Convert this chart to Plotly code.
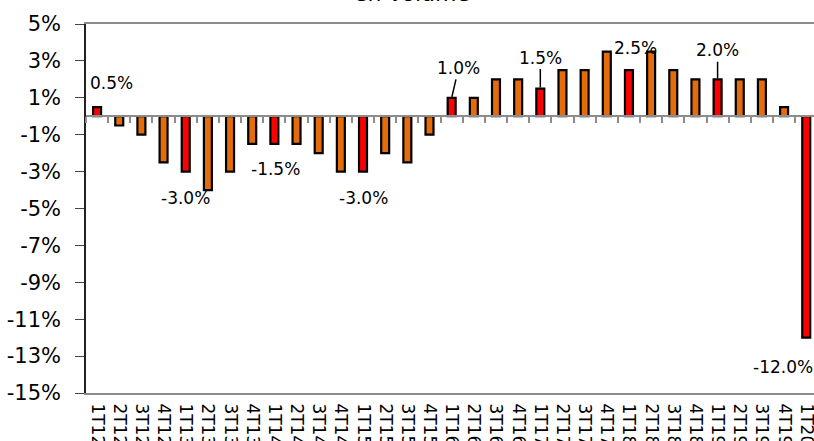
import plotly.graph_objects as go

# ---- data ----
quarters = ["1T12", "2T12", "3T12", "4T12",
            "1T13", "2T13", "3T13", "4T13",
            "1T14", "2T14", "3T14", "4T14",
            "1T15", "2T15", "3T15", "4T15",
            "1T16", "2T16", "3T16", "4T16",
            "1T17", "2T17", "3T17", "4T17",
            "1T18", "2T18", "3T18", "4T18",
            "1T19", "2T19", "3T19", "4T19",
            "1T20"]
values = [0.5, -0.5, -1.0, -2.5,
          -3.0, -4.0, -3.0, -1.5,
          -1.5, -1.5, -2.0, -3.0,
          -3.0, -2.0, -2.5, -1.0,
          1.0, 1.0, 2.0, 2.0,
          1.5, 2.5, 2.5, 3.5,
          2.5, 3.5, 2.5, 2.0,
          2.0, 2.0, 2.0, 0.5,
          -12.0]
labelled = ["1T12", "1T13", "1T14", "1T15", "1T16", "1T17", "1T18", "1T19", "1T20"]
y_ticks = [5, 3, 1, -1, -3, -5, -7, -9, -11, -13, -15]
y_tick_text = ["5%", "3%", "1%", "-1%", "-3%", "-5%", "-7%", "-9%", "-11%", "-13%", "-15%"]
title_text = "en volume"

RED = "#FF0000"
ORANGE = "#E46C0A"
FONT = "DejaVu Sans"

colors = [RED if q.startswith("1T") else ORANGE for q in quarters]

fig = go.Figure()
fig.add_trace(go.Bar(
    x=quarters, y=values, marker=dict(color=colors, line=dict(color="black", width=2.2)),
    width=0.36, hoverinfo="x+y", showlegend=False,
))
# invisible trace for the zero-line axis
fig.add_trace(go.Scatter(x=quarters, y=[0] * len(quarters), xaxis="x2", mode="markers",
                         marker=dict(opacity=0), hoverinfo="skip", showlegend=False))

# label offsets (text-only labels)
label_style = {
    "1T12": (14, 24),
    "1T13": (0, -26),
    "1T14": (1, -25),
    "1T15": (0, -26),
    "1T18": (7, 22),
    "1T20": (-23, -29),
}
# labels with a leader line
arrow_style = {
    "1T16": (7, -30),
    "1T17": (0, -31),
    "1T19": (0, -29),
}
annotations = []
for q in labelled:
    v = values[quarters.index(q)]
    txt = f"{v:.1f}%"
    if q in arrow_style:
        ax, ay = arrow_style[q]
        annotations.append(dict(x=q, y=v, xref="x", yref="y", text=txt, showarrow=True,
                                arrowhead=0, arrowwidth=1.5, arrowcolor="black", ax=ax, ay=ay,
                                font=dict(family=FONT, size=17, color="black"), standoff=1))
    else:
        xs, ys = label_style[q]
        annotations.append(dict(x=q, y=v, xref="x", yref="y", text=txt, showarrow=False,
                                xshift=xs, yshift=ys,
                                font=dict(family=FONT, size=17, color="black")))
annotations.append(dict(x=0.448, y=1, xref="paper", yref="paper", text=title_text,
                        showarrow=False, yanchor="bottom", yshift=16,
                        font=dict(family=FONT, size=22, color="black")))

xrange = [-0.5, 32.35]
fig.update_layout(
    width=814, height=441,
    margin=dict(l=86, r=0, t=24, b=48, autoexpand=False),
    paper_bgcolor="white", plot_bgcolor="white",
    font=dict(family=FONT, color="black"),
    annotations=annotations,
    xaxis=dict(type="category", categoryorder="array", categoryarray=quarters,
               range=xrange, tickangle=90, showgrid=False, zeroline=False,
               showline=True, linecolor="#8c8c8c", linewidth=2, mirror=True,
               ticks="", automargin=False, ticklabelstandoff=5,
               tickfont=dict(family=FONT, size=17, color="black")),
    xaxis2=dict(type="category", categoryorder="array", categoryarray=quarters,
                range=xrange, overlaying="x", anchor="free", position=(0 - (-15)) / 20,
                side="bottom", showticklabels=False, showgrid=False, zeroline=False,
                showline=True, linecolor="#8c8c8c", linewidth=2, automargin=False,
                ticks="outside", tickson="boundaries", ticklen=6, tickcolor="#8c8c8c",
                tickwidth=1.5),
    yaxis=dict(range=[-15, 5], tickvals=y_ticks, ticktext=y_tick_text,
               showgrid=False, zeroline=False, showline=True, linecolor="#222222",
               linewidth=1.5, ticks="outside", ticklen=9, tickcolor="#444444",
               automargin=False, ticklabelstandoff=10,
               tickfont=dict(family=FONT, size=21, color="black")),
)

# remove the browser's default page margin so the figure fills the window
fig.write_html("out.html", config={"displayModeBar": False},
               post_script="document.body.style.margin='0px';document.body.style.overflow='hidden';")
